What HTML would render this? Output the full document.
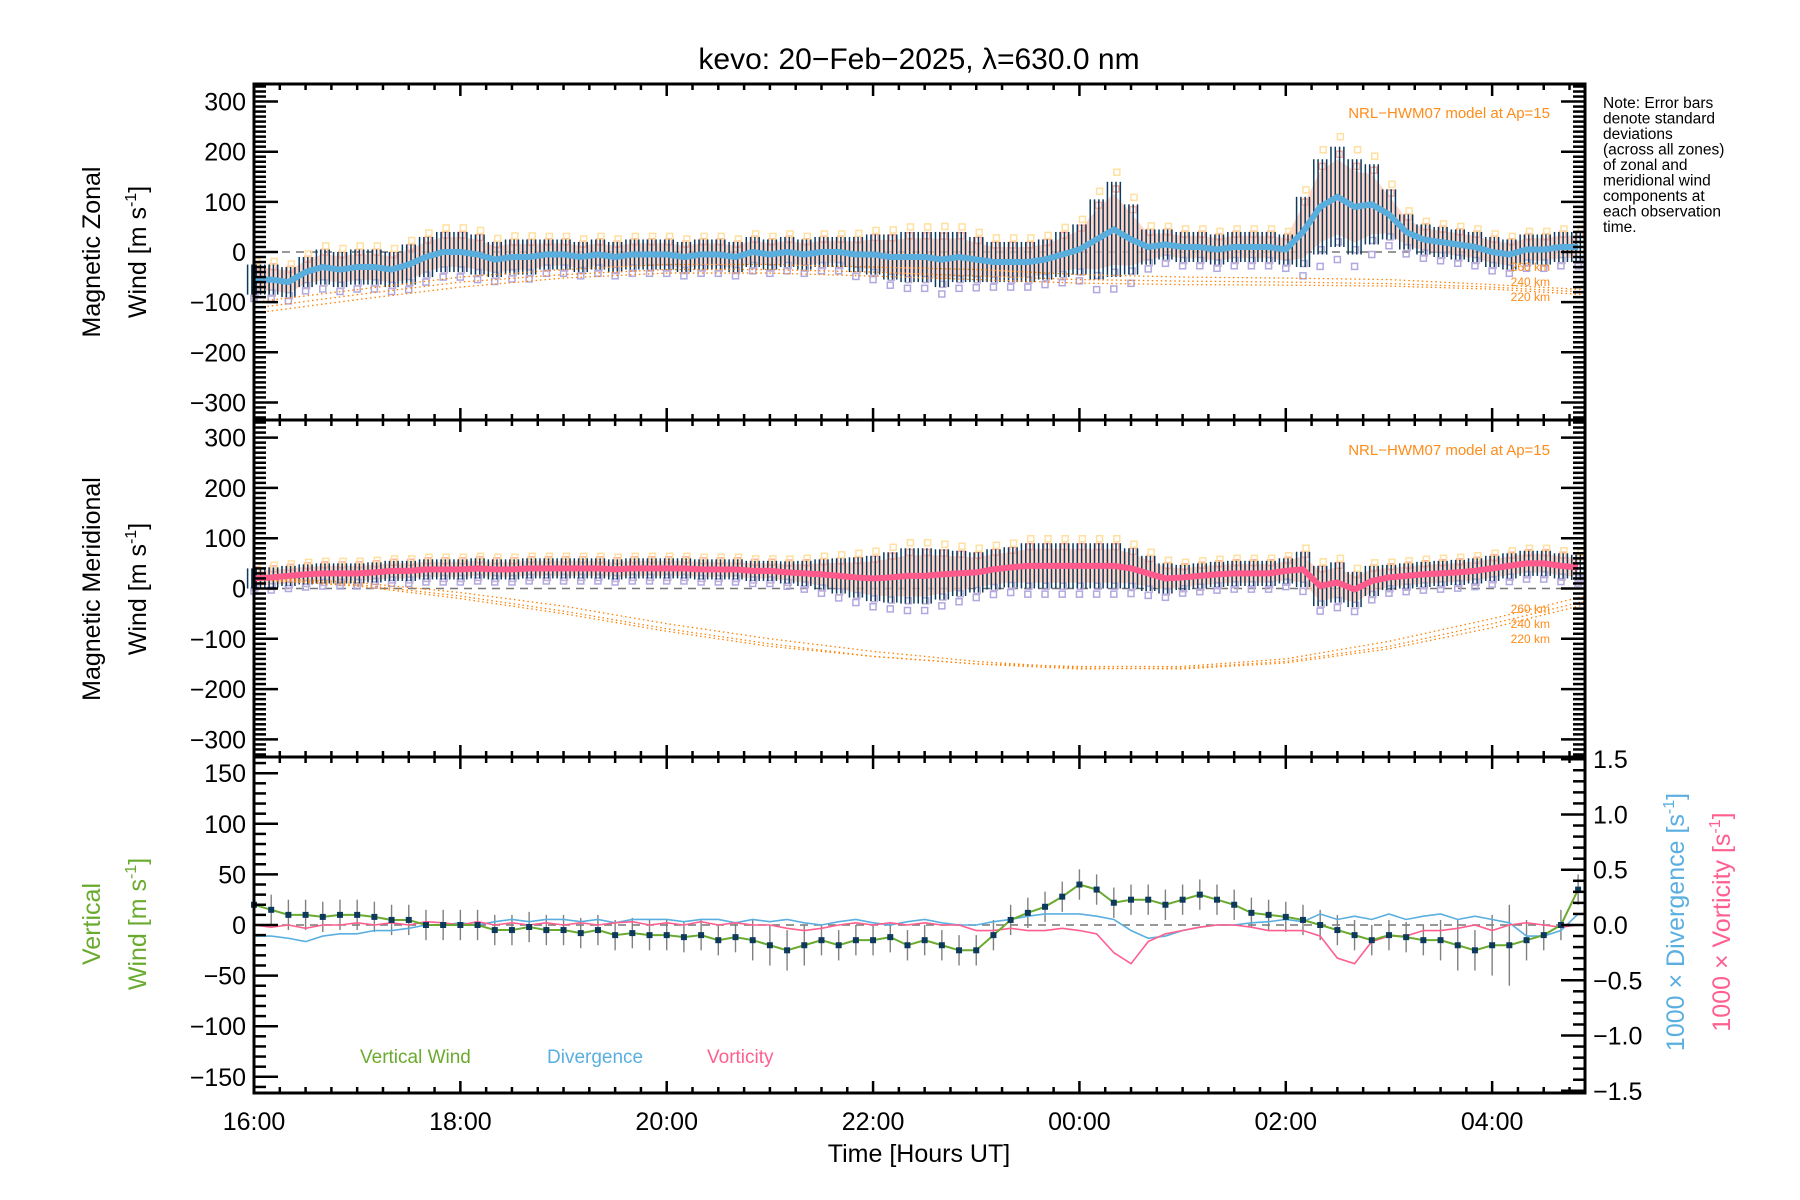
<!DOCTYPE html>
<html><head><meta charset="utf-8"><style>
html,body{margin:0;padding:0;background:#fff;}
svg{display:block;font-family:"Liberation Sans",sans-serif;}
</style></head><body>
<svg id="chart" width="1800" height="1200" viewBox="0 0 1800 1200" xmlns="http://www.w3.org/2000/svg">
<rect x="0" y="0" width="1800" height="1200" fill="#fff"/>
<text x="919" y="69" font-size="30" text-anchor="middle" fill="#000">kevo: 20−Feb−2025, λ=630.0 nm</text>
<g id="marks"></g>
<g id="axes"></g>
<text transform="translate(100,252) rotate(-90)" font-size="25" text-anchor="middle">Magnetic Zonal</text>
<text transform="translate(146,252) rotate(-90)" font-size="25" text-anchor="middle">Wind [m s<tspan dy="-10" font-size="16">-1</tspan><tspan dy="10">]</tspan></text>
<text transform="translate(100,589) rotate(-90)" font-size="25" text-anchor="middle">Magnetic Meridional</text>
<text transform="translate(146,589) rotate(-90)" font-size="25" text-anchor="middle">Wind [m s<tspan dy="-10" font-size="16">-1</tspan><tspan dy="10">]</tspan></text>
<text transform="translate(100,924) rotate(-90)" font-size="25" text-anchor="middle" fill="#6aaa2e">Vertical</text>
<text transform="translate(146,924) rotate(-90)" font-size="25" text-anchor="middle" fill="#6aaa2e">Wind [m s<tspan dy="-10" font-size="16">-1</tspan><tspan dy="10">]</tspan></text>
<text transform="translate(1684,922) rotate(-90)" font-size="25" text-anchor="middle" fill="#5aafe0">1000 × Divergence [s<tspan dy="-10" font-size="16">-1</tspan><tspan dy="10">]</tspan></text>
<text transform="translate(1730,922) rotate(-90)" font-size="25" text-anchor="middle" fill="#ff5f8f">1000 × Vorticity [s<tspan dy="-10" font-size="16">-1</tspan><tspan dy="10">]</tspan></text>
<text x="919" y="1162" font-size="25" text-anchor="middle">Time [Hours UT]</text>
<g font-size="15.5" fill="#000">
<text x="1603" y="108">Note: Error bars</text>
<text x="1603" y="123.5">denote standard</text>
<text x="1603" y="139">deviations</text>
<text x="1603" y="154.5">(across all zones)</text>
<text x="1603" y="170">of zonal and</text>
<text x="1603" y="185.5">meridional wind</text>
<text x="1603" y="201">components at</text>
<text x="1603" y="216.5">each observation</text>
<text x="1603" y="232">time.</text>
</g>
<text x="1550" y="118" font-size="15" text-anchor="end" fill="#ff8c1a">NRL−HWM07 model at Ap=15</text>
<text x="1550" y="455" font-size="15" text-anchor="end" fill="#ff8c1a">NRL−HWM07 model at Ap=15</text>
<g font-size="12" fill="#ff8c1a" text-anchor="end">
<text x="1550" y="271">260 km</text>
<text x="1550" y="286">240 km</text>
<text x="1550" y="301">220 km</text>
<text x="1550" y="613">260 km</text>
<text x="1550" y="628">240 km</text>
<text x="1550" y="643">220 km</text>
</g>
<g font-size="19">
<text x="360" y="1063" fill="#6aaa2e">Vertical Wind</text>
<text x="547" y="1063" fill="#5aafe0">Divergence</text>
<text x="707" y="1063" fill="#ff5f8f">Vorticity</text>
</g>
</svg>
<script>
// time axis: values every 10 minutes from 16:00 (hours after 16:00)
const xTickLabels = ["16:00","18:00","20:00","22:00","00:00","02:00","04:00"];
const zonalMean = [-55,-55,-60,-40,-30,-35, -30,-30,-35,-25,-10,0, 0,-5,-15,-10,-10,-5, -5,-10,-5,-10,-5,-5, -5,-10,-5,-5,-10,0, -5,0,-5,0,0,-5, -5,-10,-10,-10,-15,-10, -15,-20,-20,-20,-15,-5, 5,25,45,25,10,15, 10,10,5,10,10,10, 5,40,90,110,90,95, 75,40,25,20,15,10, 0,-5,5,5,10,10];
const zonalSd = [30,30,30,30,35,35, 35,35,35,40,40,40, 40,40,35,35,35,30, 30,30,30,30,30,30, 30,30,30,30,30,30, 30,30,30,30,30,35, 40,45,50,50,55,50, 45,40,40,40,40,45, 50,80,95,70,35,30, 30,30,30,30,30,30, 30,70,95,100,95,80, 50,35,30,30,30,30, 30,30,30,30,30,30];
const meridMean = [20,22,25,28,30,30, 30,32,35,35,38,38, 38,40,38,38,40,40, 40,40,40,38,40,40, 40,40,38,38,38,35, 35,32,30,28,25,22, 20,22,25,25,28,30, 32,38,42,45,45,45, 45,45,45,40,30,20, 22,25,28,30,30,30, 35,38,5,12,-2,15, 22,25,28,30,32,35, 40,45,50,50,45,42];
const meridSd = [20,20,20,20,20,20, 20,20,20,20,20,20, 20,20,20,20,20,20, 20,20,20,20,20,20, 20,20,20,20,20,20, 20,22,25,30,35,40, 45,50,55,55,50,45, 40,40,40,45,45,45, 45,45,45,40,35,30, 25,25,25,25,25,25, 25,35,40,40,35,30, 25,25,25,25,25,25, 25,25,25,25,25,25];
const vertWind = [20,15,10,10,8,10, 10,8,5,5,0,0, 0,0,-5,-5,-2,-5, -5,-8,-5,-10,-8,-10, -10,-12,-10,-15,-12,-15, -20,-25,-20,-15,-20,-15, -15,-12,-20,-15,-20,-25, -25,-10,5,12,18,28, 40,35,22,25,25,20, 25,30,25,20,12,10, 8,5,0,-5,-10,-15, -10,-12,-15,-15,-20,-25, -20,-20,-15,-10,0,35];
const vertSd = [15,15,15,15,15,15, 15,15,15,15,15,15, 15,15,15,15,15,15, 15,15,15,15,15,15, 15,15,15,15,15,20, 20,20,20,15,15,15, 15,15,15,15,15,15, 15,15,15,15,15,15, 15,15,15,15,15,15, 15,15,15,15,15,15, 15,15,15,15,15,15, 15,15,15,20,25,20, 30,40,20,15,15,15];
const divergence = [-0.1,-0.1,-0.12,-0.15,-0.1,-0.08, -0.08,-0.05,-0.05,-0.03,0,0, 0.02,0,0.03,0.05,0.03,0.05, 0.05,0.03,0.05,0.02,0.05,0.05, 0.05,0.03,0.05,0.05,0.02,0.05, 0.03,0.05,0.02,0,0.03,0.05, 0.02,0,0.03,0.05,0.02,0, 0,0.03,0.05,0.08,0.1,0.1, 0.1,0.08,0.05,-0.05,-0.12,-0.1, -0.05,-0.02,0,0,0.02,0.03, 0.05,0.03,0.1,0.05,0.08,0.05, 0.1,0.05,0.08,0.1,0.05,0.08, 0.05,0.02,-0.1,-0.1,-0.05,0.1];
const vorticity = [0,-0.02,0,-0.03,0,0, 0.02,0,0.02,0,0.03,0.02, 0,0.03,0,0.02,0,0.02, 0,0.02,0,0.02,0.03,0, 0.02,0,0.03,0,0.02,0, 0,-0.03,-0.05,-0.03,0,0.02, 0,0.02,0,0.02,0,0, -0.05,-0.05,-0.03,-0.05,-0.05,-0.03, -0.05,-0.08,-0.25,-0.35,-0.15,-0.08, -0.05,-0.02,0,0,-0.02,-0.05, -0.05,-0.05,-0.1,-0.3,-0.35,-0.15, -0.1,-0.1,-0.05,-0.05,-0.03,0, -0.05,0,0.02,0,-0.02,0];
// HWM07 model, hourly from 16:00
const zonalModel260 = [-100,-75,-50,-35,-25,-25,-30,-35,-45,-50,-52,-55,-65,-75];
const zonalModel240 = [-112,-85,-60,-45,-35,-35,-40,-48,-55,-58,-60,-63,-70,-80];
const zonalModel220 = [-122,-95,-70,-52,-42,-42,-48,-55,-62,-65,-66,-68,-74,-85];
const meridModel260 = [18,5,-20,-50,-85,-115,-135,-150,-155,-155,-140,-105,-60,-15];
const meridModel240 = [20,8,-15,-45,-80,-110,-135,-150,-160,-158,-145,-115,-70,-25];
const meridModel220 = [22,12,-8,-35,-70,-100,-125,-145,-158,-160,-148,-120,-78,-32];

const NS = "http://www.w3.org/2000/svg";
const X0 = 254, X1 = 1585, HMAX = 12.9;
const xs = h => X0 + (h / HMAX) * (X1 - X0);
const panels = [
  {top:84, bot:420, min:-335, max:335},
  {top:420, bot:757, min:-335, max:335},
  {top:757, bot:1093, min:-166, max:166}
];
const yAx = (p, v) => p.bot - (v - p.min) / (p.max - p.min) * (p.bot - p.top);
const p3 = panels[2];
const yRight = v => p3.bot - (v + 1.52) / 3.04 * (p3.bot - p3.top);
const marks = document.getElementById('marks');
const axes = document.getElementById('axes');
function mk(tag, attrs, parent) {
  const e = document.createElementNS(NS, tag);
  for (const k in attrs) e.setAttribute(k, attrs[k]);
  (parent || marks).appendChild(e);
  return e;
}
const tOf = i => i / 6;

// scatter offsets pattern (fraction of SD) for zone points
const zoneOffsets = [-1.25, -0.9, 0.85, 1.2];
const zoneColors = ["#b0a8e0", "#c0b0d8", "#ffb0a0", "#ffe0a0"];

function windPanel(p, mean, sd, lineColor, models, name) {
  const z = mk('line', {x1:X0, x2:X1, y1:yAx(p,0), y2:yAx(p,0), stroke:'#777', 'stroke-width':1.5, 'stroke-dasharray':'8,6'});
  
  
  let up = '', dn = '';
  mean.forEach((m, i) => { up += (i ? 'L' : 'M') + xs(tOf(i)) + ',' + yAx(p, m + sd[i] * 0.75); });
  for (let i = mean.length - 1; i >= 0; i--) dn += 'L' + xs(tOf(i)) + ',' + yAx(p, mean[i] - sd[i] * 0.75);
  const band = mk('path', {d: up + dn + 'Z', fill:'#ffc8b4', opacity:0.75});
  
  
  mean.forEach((m, i) => {
    zoneOffsets.forEach((o, k) => {
      const s = mk('rect', {x: xs(tOf(i)) - 3 + k, y: yAx(p, m + sd[i] * o) - 3, width:6, height:6, fill:'none', stroke: zoneColors[k], 'stroke-width':1.5});
      
      
    });
  });
  mean.forEach((m, i) => {
    for (let j = 0; j < 4; j++) {
      const x = xs(tOf(i)) + j * 4.3 - 6.4;
      const e = mk('line', {x1:x, x2:x, y1:yAx(p, m + sd[i]), y2:yAx(p, m - sd[i]), stroke:'#0d3a5c', 'stroke-width':1.5});
      
      
    }
  });
  models.forEach((mod, k) => {
    let d = '';
    mod.forEach((v, i) => { d += (i ? 'L' : 'M') + xs(Math.min(i, HMAX)) + ',' + yAx(p, v); });
    const l = mk('path', {d, fill:'none', stroke:'#ff8000', 'stroke-width':1.3, 'stroke-dasharray':'1.5,3'});
    
    
  });
  let d = '';
  mean.forEach((m, i) => { d += (i ? 'L' : 'M') + xs(tOf(i)) + ',' + yAx(p, m); });
  const ml = mk('path', {d, fill:'none', stroke:lineColor, 'stroke-width':6, 'stroke-linejoin':'round'});
  
  
}
windPanel(panels[0], zonalMean, zonalSd, '#5aaede', [zonalModel260, zonalModel240, zonalModel220], 'zonal');
windPanel(panels[1], meridMean, meridSd, '#ff5a8c', [meridModel260, meridModel240, meridModel220], 'meridional');

const zl = mk('line', {x1:X0, x2:X1, y1:yAx(p3,0), y2:yAx(p3,0), stroke:'#777', 'stroke-width':1.5, 'stroke-dasharray':'8,6'});


vertWind.forEach((v, i) => {
  const x = xs(tOf(i));
  const e = mk('line', {x1:x, x2:x, y1:yAx(p3, v + vertSd[i]), y2:yAx(p3, v - vertSd[i]), stroke:'#808080', 'stroke-width':1.4});
  
  
});
function seriesPath(arr, yf, color, w, name) {
  let d = '';
  arr.forEach((v, i) => { d += (i ? 'L' : 'M') + xs(tOf(i)) + ',' + yf(v); });
  const l = mk('path', {d, fill:'none', stroke:color, 'stroke-width':w});
  
  
}
seriesPath(divergence, yRight, '#5aafe0', 1.6, 'divergence-line');
seriesPath(vorticity, yRight, '#ff5f8f', 1.6, 'vorticity-line');
seriesPath(vertWind, v => yAx(p3, v), '#6aaa2e', 2, 'vertical-wind-line');
vertWind.forEach((v, i) => {
  const r = mk('rect', {x: xs(tOf(i)) - 3, y: yAx(p3, v) - 3, width:6, height:6, fill:'#0d3a5c'});
  
  
});

function line(x1, y1, x2, y2, w, nm) {
  const l = mk('line', {x1, y1, x2, y2, stroke:'#000', 'stroke-width':w}, axes);
  
  
}
function label(x, y, txt, anchor, nm) {
  const t = mk('text', {x, y, 'font-size':25, 'text-anchor':anchor, fill:'#000'}, axes);
  t.textContent = txt;
  
  
}
panels.forEach((p, pi) => {
  const fr = mk('rect', {x:X0, y:p.top, width:X1 - X0, height:p.bot - p.top, fill:'none', stroke:'#000', 'stroke-width':3}, axes);
  
  
  for (let q = 0; q <= HMAX * 4; q++) {
    const h = q / 4, x = xs(h), len = (q % 8 === 0) ? 12 : 6;
    line(x, p.top, x, p.top + len, 2.5, 'x-tick');
    line(x, p.bot, x, p.bot - len, 2.5, 'x-tick');
  }
  const major = pi < 2 ? 100 : 50;
  for (let v = Math.ceil(p.min / 10) * 10; v <= p.max; v += 10) {
    const y = yAx(p, v), len = (v % major === 0) ? 24 : 12;
    line(X0, y, X0 + len, y, 2.5, 'y-tick');
    if (pi < 2) line(X1, y, X1 - len, y, 2.5, 'y-tick');
    if (v % major === 0 && Math.abs(v) <= (pi < 2 ? 300 : 150)) label(X0 - 8, y + 9, (v < 0 ? '−' + (-v) : '' + v), 'end', 'y-tick-label');
  }
});
for (let k = -15; k <= 15; k++) {
  const v = k / 10, y = yRight(v), len = (k % 5 === 0) ? 24 : 12;
  line(X1, y, X1 - len, y, 2.5, 'right-y-tick');
  if (k % 5 === 0) label(X1 + 8, y + 9, (v < 0 ? '−' : '') + Math.abs(v).toFixed(1), 'start', 'right-y-tick-label');
}
xTickLabels.forEach((t, i) => label(xs(i * 2), 1130, t, 'middle', 'x-tick-label'));
</script>
</body></html>
